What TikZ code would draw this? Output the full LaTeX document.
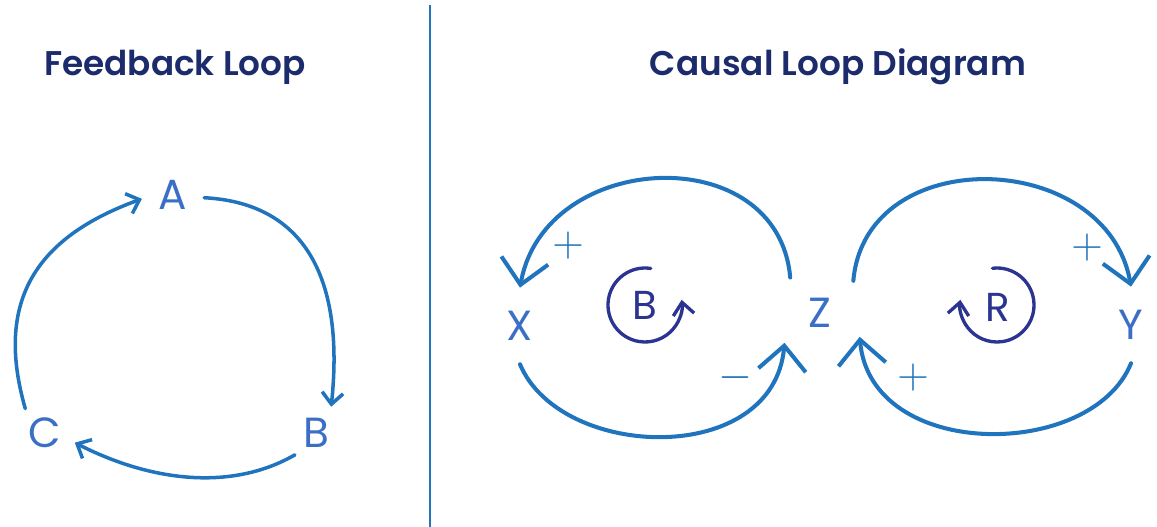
\documentclass[tikz,border=0pt]{standalone}
\usepackage{fontspec}
\setmainfont{Poppins}
\newfontfamily\titelschrift{Poppins}[UprightFont={* SemiBold}]
\usetikzlibrary{arrows.meta, calc}

\definecolor{linie}{HTML}{1F74BD}
\definecolor{buchstabe}{HTML}{3B6FC6}
\definecolor{titel}{HTML}{1C2B6B}
\definecolor{schleife}{HTML}{2B3490}

\tikzset{
    titeltext/.style={text=titel, font=\titelschrift\fontsize{19.5}{22}\selectfont},
    buchst/.style={circle, inner sep=0pt, text=buchstabe, font=\fontsize{24}{28}\selectfont},
    zeichen/.style={text=linie, inner sep=0pt, font=\fontsize{24}{26}\selectfont},
    markentext/.style={text=schleife, font=\fontsize{23}{26}\selectfont},
    fpfeil/.style={line width=2pt, linie, line cap=round,
        -{Straight Barb[length=6.5pt, width=12pt, line width=2pt]}},
    kpfeil/.style={line width=2.3pt, linie, line cap=round,
        -{Straight Barb[length=14pt, width=27pt, line width=2.3pt]}},
    marke/.style={line width=1.9pt, schleife, line cap=round,
        -{Straight Barb[length=7pt, width=12pt, line width=1.9pt]}}
}

\begin{document}
\begin{tikzpicture}[x=0.02cm, y=0.02cm]

\useasboundingbox (0,0) rectangle (1157,-527);

% Ueberschriften
\node[titeltext] (t1) at (175,-67) {Feedback Loop};
\node[titeltext] (t2) at (838,-67) {Causal Loop Diagram};

% Trennlinie
\draw[linie, line width=0.9pt] (430,-5) -- (430,-527);

% Feedback Loop
\node[buchst, minimum size=1.24cm] (a) at (173,-195) {A};
\node[buchst, minimum size=1.20cm] (b) at (316,-433) {B};
\node[buchst, minimum size=1.24cm] (c) at (45,-433) {C};

\draw[fpfeil] (a.-5) .. controls +(-3:100) and +(84:130) .. (b.60);
\draw[fpfeil] (b.226) .. controls +(210:70) and +(-27:90) .. (c.-18);
\draw[fpfeil] (c.129) .. controls +(106:110) and +(200:115) .. (a.187);

% Causal Loop Diagram
\node[buchst, minimum size=1.52cm] (x) at (520,-326) {X};
\node[buchst, minimum size=1.84cm] (z) at (820,-313) {Z};
\node[buchst, minimum size=1.52cm] (y) at (1131,-325) {Y};

\draw[kpfeil] (z.130) .. controls +(95:140) and +(80:140) .. (x.90);
\draw[kpfeil] (x.-90) .. controls +(-67:105) and +(-95:125) .. (z.220);
\draw[kpfeil] (z.44) .. controls +(85:140) and +(100:140) .. (y.90);
\draw[kpfeil] (y.-90) .. controls +(-112:105) and +(-85:125) .. (z.-31);

% Vorzeichen
\node[zeichen] (p1) at (568,-246) {$+$};
\node[zeichen] (m1) at (735,-378) {$-$};
\node[zeichen] (p2) at (1087,-248) {$+$};
\node[zeichen] (p3) at (913,-378) {$+$};

% Schleifen
\node[markentext] (bm) at (645,-305) {B};
\draw[marke] (bm) ++(81:37) arc[start angle=81, end angle=368, radius=37];
\node[markentext] (rm) at (998,-307) {R};
\draw[marke] (997,-305) ++(97:37) arc[start angle=97, end angle=-188, radius=37];

\end{tikzpicture}
\end{document}
